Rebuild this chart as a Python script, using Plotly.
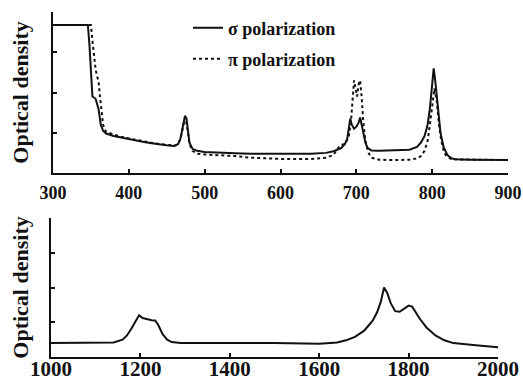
import plotly.graph_objects as go

# ---- top panel data (wavelength nm, optical density arb. units) ----
sigma_w = [300, 346, 348, 350, 352, 356, 360, 363, 366, 370, 380, 390, 400, 410, 420, 430, 440, 450, 460,
           465, 468, 470, 472, 474, 476, 478, 480, 484, 490, 500, 520, 540, 560, 580, 600, 620, 640, 660,
           670, 680, 685, 688, 690, 692, 694, 697, 700, 703, 705, 707, 709, 712, 715, 720, 730, 750, 770,
           780, 785, 790, 794, 797, 800, 802, 804, 806, 808, 811, 815, 820, 825, 830, 850, 870, 900]
sigma_v = [3.68, 3.68, 3.2, 2.4, 1.9, 1.85, 1.6, 1.2, 1.05, 0.98, 0.92, 0.88, 0.84, 0.80, 0.77, 0.74, 0.71, 0.69, 0.67,
           0.72, 0.85, 1.05, 1.3, 1.42, 1.35, 1.05, 0.75, 0.6, 0.55, 0.52, 0.50, 0.49, 0.48, 0.48, 0.47, 0.47, 0.48, 0.50,
           0.54, 0.62, 0.72, 0.85, 1.05, 1.35, 1.2, 1.1, 1.15, 1.25, 1.38, 1.2, 0.95, 0.75, 0.62, 0.56, 0.55, 0.56, 0.58,
           0.65, 0.75, 0.92, 1.2, 1.6, 2.2, 2.6, 2.3, 1.9, 1.5, 1.0, 0.65, 0.45, 0.37, 0.34, 0.33, 0.33, 0.32]

pi_w = [300, 350, 352, 354, 356, 358, 360, 362, 364, 366, 370, 380, 390, 400, 410, 420, 430, 440, 450, 460,
        465, 468, 470, 472, 474, 476, 478, 480, 484, 490, 500, 520, 540, 560, 580, 600, 620, 640, 660, 670,
        675, 680, 685, 690, 693, 695, 697, 699, 701, 703, 705, 707, 709, 712, 716, 720, 730, 750, 770, 780,
        785, 790, 794, 797, 800, 803, 806, 809, 812, 816, 820, 825, 830, 850, 870, 900]
pi_v = [3.68, 3.68, 3.3, 2.9, 2.6, 2.4, 2.3, 1.9, 1.6, 1.2, 1.02, 0.95, 0.9, 0.86, 0.82, 0.78, 0.75, 0.72, 0.70, 0.68,
        0.72, 0.85, 1.0, 1.2, 1.3, 1.25, 1.0, 0.72, 0.55, 0.48, 0.46, 0.44, 0.42, 0.38, 0.36, 0.35, 0.35, 0.35, 0.38, 0.45,
        0.6, 0.7, 0.72, 0.9, 1.3, 1.8, 2.3, 2.1, 1.9, 2.2, 2.3, 1.9, 1.3, 0.8, 0.5, 0.38, 0.33, 0.32, 0.33, 0.36,
        0.42, 0.55, 0.8, 1.2, 1.7, 2.1, 1.8, 1.2, 0.8, 0.5, 0.4, 0.35, 0.34, 0.33, 0.33, 0.32]

# ---- bottom panel data ----
ir_w = [1000, 1050, 1100, 1140, 1160, 1170, 1180, 1190, 1197, 1205, 1215, 1225, 1233, 1240, 1250, 1260, 1270,
        1290, 1350, 1400, 1450, 1500, 1550, 1600, 1640, 1660, 1680, 1700, 1710, 1720, 1730, 1738, 1745, 1752,
        1760, 1770, 1780, 1790, 1800, 1808, 1815, 1825, 1840, 1860, 1880, 1900, 1950, 2000]
ir_v = [0.40, 0.40, 0.42, 0.42, 0.5, 0.62, 0.82, 1.05, 1.2, 1.12, 1.08, 1.06, 1.05, 0.92, 0.65, 0.5, 0.43,
        0.40, 0.40, 0.39, 0.40, 0.40, 0.40, 0.38, 0.42, 0.48, 0.58, 0.75, 0.9, 1.05, 1.3, 1.6, 2.0, 1.85,
        1.55, 1.32, 1.30, 1.40, 1.48, 1.45, 1.3, 1.1, 0.85, 0.62, 0.48, 0.40, 0.34, 0.28]

top_ticks = [300, 400, 500, 600, 700, 800, 900]
bottom_ticks = [1000, 1200, 1400, 1600, 1800, 2000]

SERIF = "Liberation Serif"
INK = "#111111"
W, H = 523, 385

fig = go.Figure()
fig.add_trace(go.Scatter(x=sigma_w, y=sigma_v, mode="lines", name="σ polarization",
                         line=dict(color=INK, width=2), xaxis="x", yaxis="y", legend="legend"))
fig.add_trace(go.Scatter(x=pi_w, y=pi_v, mode="lines", name="π polarization",
                         line=dict(color=INK, width=2, dash="dot"), xaxis="x", yaxis="y", legend="legend2"))
fig.add_trace(go.Scatter(x=ir_w, y=ir_v, mode="lines", showlegend=False,
                         line=dict(color=INK, width=2), xaxis="x2", yaxis="y2"))

axis_common = dict(showline=True, linecolor=INK, linewidth=2, showgrid=False, zeroline=False,
                   ticks="inside", ticklen=4, tickwidth=1.5, tickcolor=INK, automargin=False)

fig.update_layout(
    width=W, height=H,
    margin=dict(l=0, r=0, t=0, b=0),
    paper_bgcolor="white", plot_bgcolor="white",
    font=dict(family=SERIF, color=INK),
    xaxis=dict(domain=[53 / W, 508 / W], range=[300, 900], tickvals=top_ticks,
               tickfont=dict(size=18, weight="bold"), ticklabelstandoff=2, anchor="y", **axis_common),
    yaxis=dict(domain=[1 - 173 / H, 1 - 12 / H], range=[0, 4], tickvals=[1, 2, 3, 4],
               showticklabels=False, anchor="x",
               title=dict(text="Optical density", font=dict(size=22, weight="bold"), standoff=16),
               **axis_common),
    xaxis2=dict(domain=[51 / W, 498 / W], range=[1000, 2000], tickvals=bottom_ticks,
                tickfont=dict(size=21, weight="bold"), ticklabelstandoff=-8, anchor="y2", **axis_common),
    yaxis2=dict(domain=[1 - 357 / H, 1 - 218 / H], range=[0, 4], tickvals=[1, 2, 3, 4],
                showticklabels=False, anchor="x2",
                title=dict(text="Optical density", font=dict(size=22, weight="bold"), standoff=14),
                **axis_common),
    legend=dict(x=188 / W, y=1 - 28 / H, xanchor="left", yanchor="middle",
                bgcolor="rgba(0,0,0,0)", borderwidth=0, font=dict(size=18, weight="bold")),
    legend2=dict(x=188 / W, y=1 - 59 / H, xanchor="left", yanchor="middle",
                 bgcolor="rgba(0,0,0,0)", borderwidth=0, font=dict(size=18, weight="bold")),
)

fig.write_html("out.html")
